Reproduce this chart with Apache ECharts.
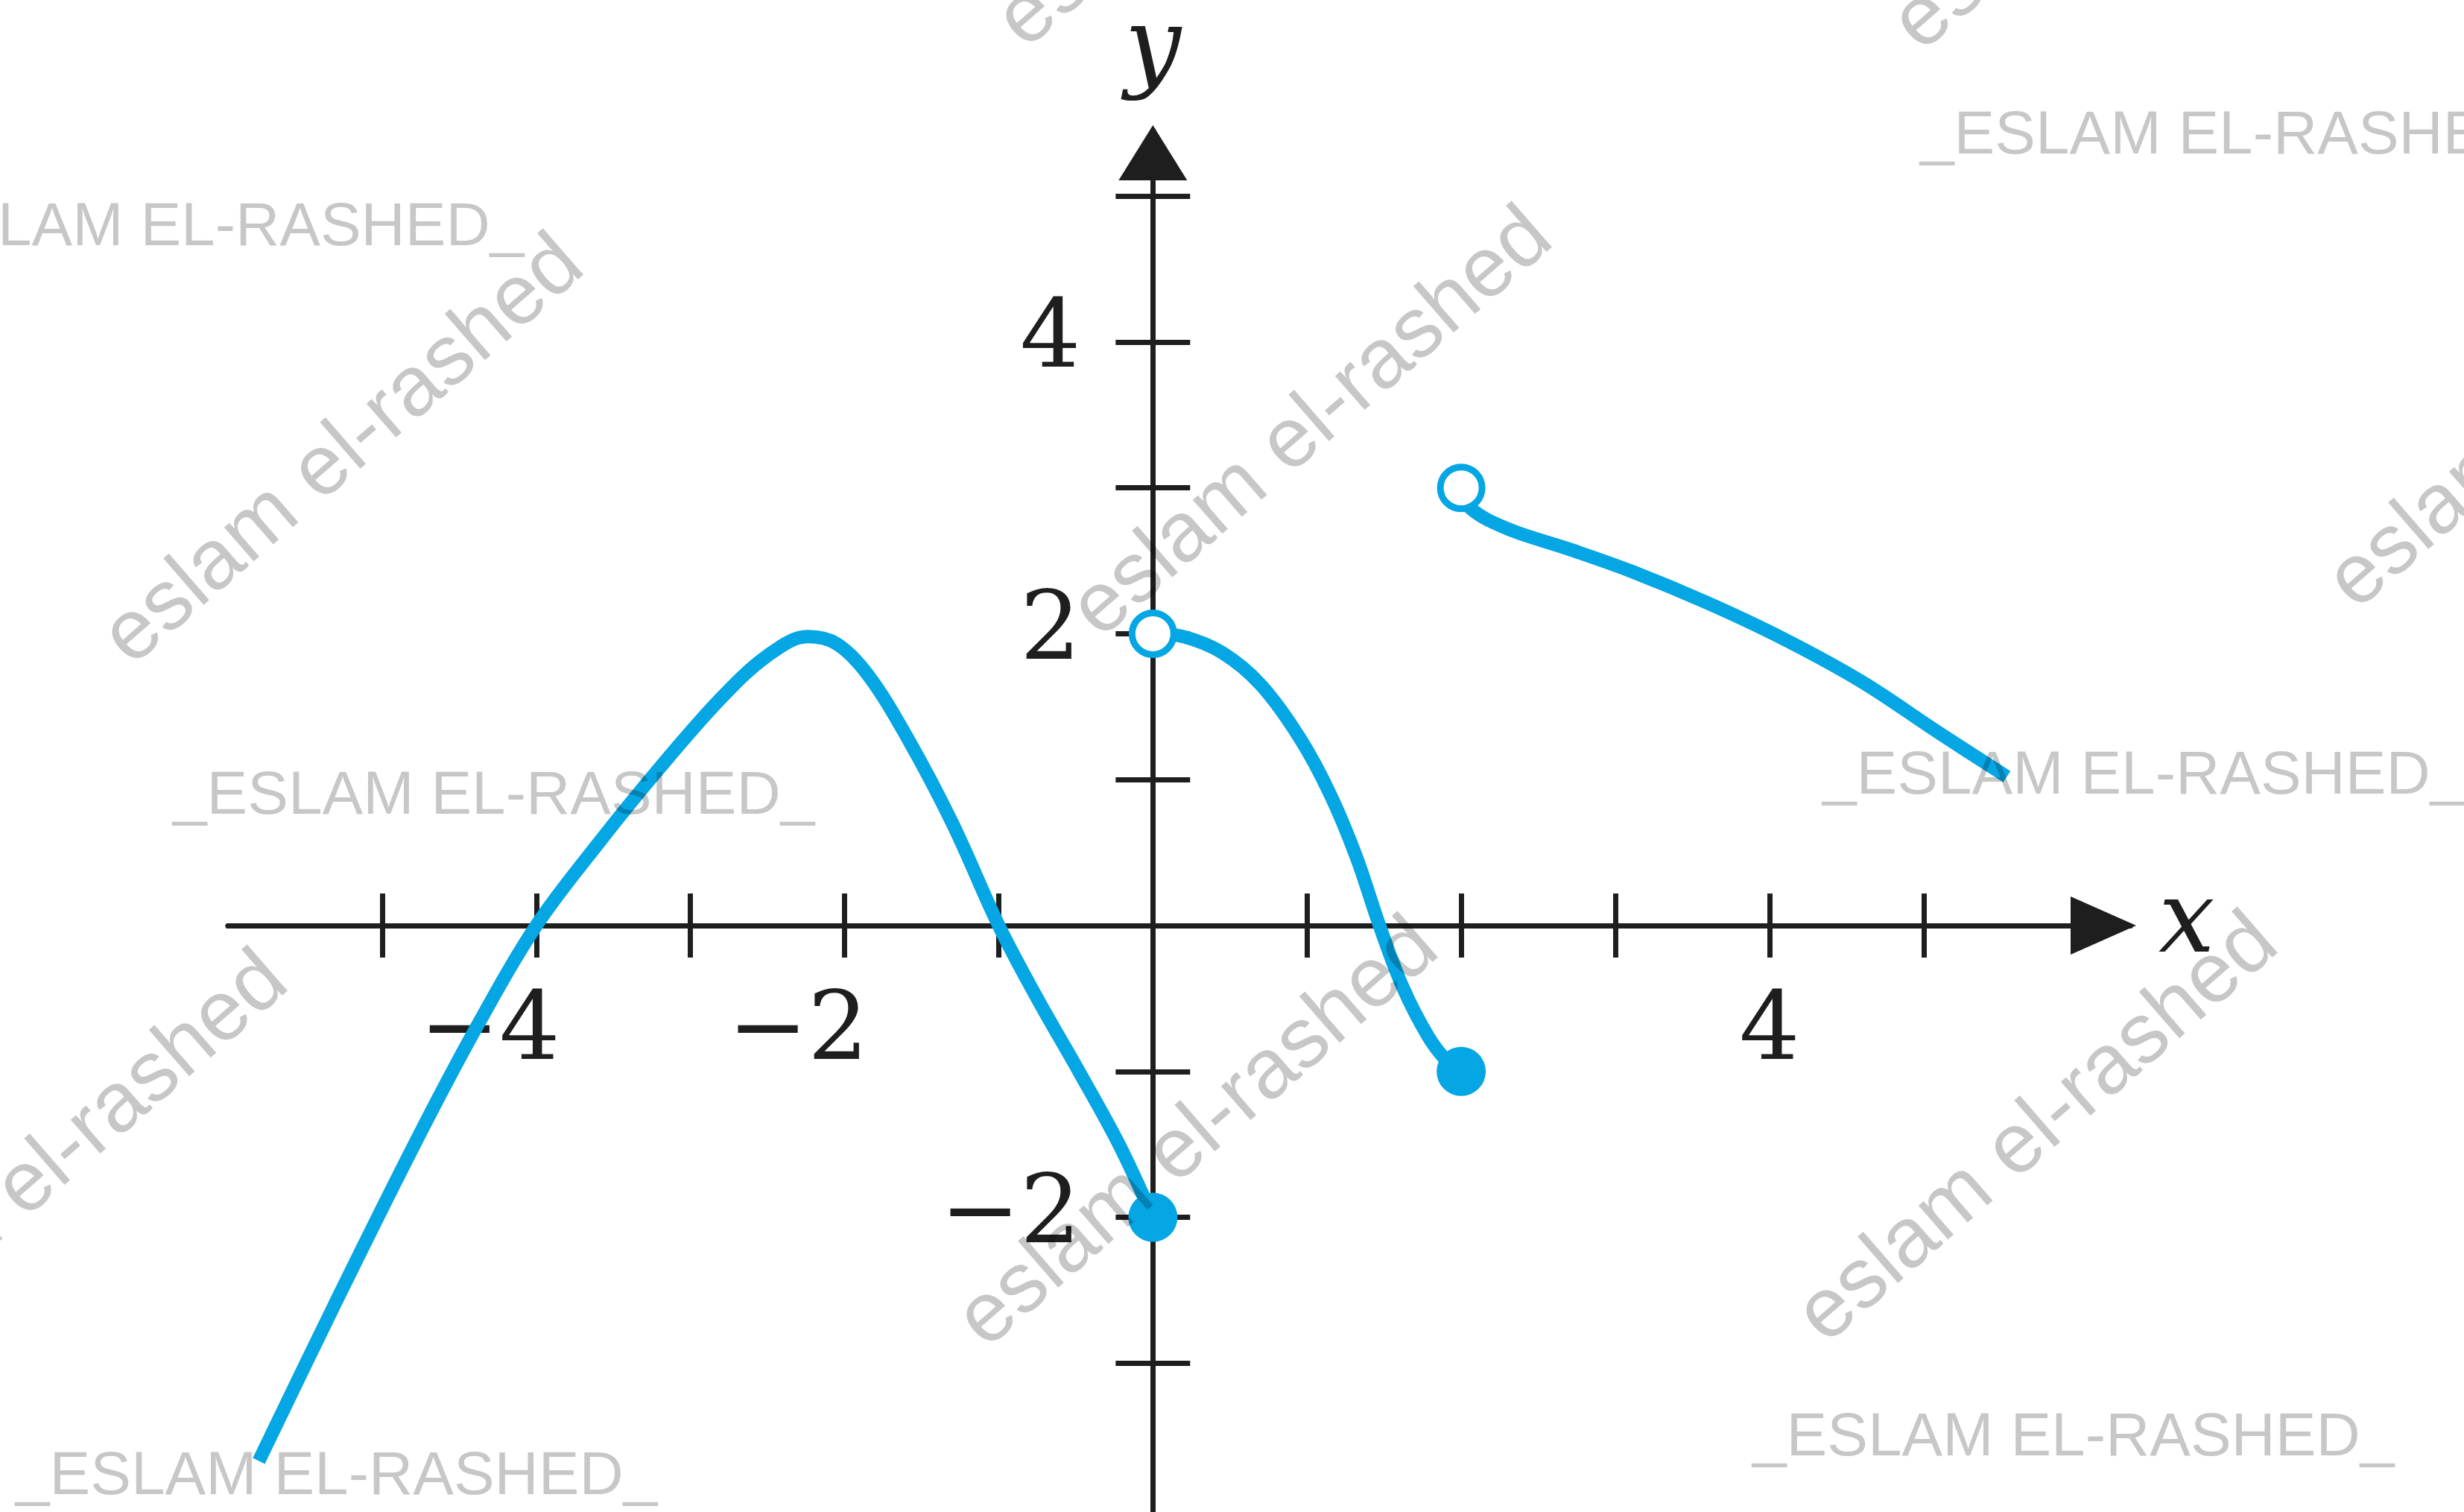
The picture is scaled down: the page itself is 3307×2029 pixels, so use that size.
<!DOCTYPE html>
<html lang="en">
<head>
    <meta charset="UTF-8">
    <title>piecewise graph</title>
    <script src="https://cdn.jsdelivr.net/npm/echarts@6/dist/echarts.min.js"></script>
    <style>
        html, body {
            margin: 0;
            padding: 0;
            background: #fff;
        }

        #main {
            width: 3307px;
            height: 2029px;
        }
    </style>
</head>
<body>
<div id="main"></div>
<script>
    // the three pieces of the curve, [x, y]
    var leftPiece = [
        [-5.80, -3.67], [-5.30, -2.58], [-4.80, -1.52], [-4.40, -0.72], [-4.00, 0.00],
        [-3.60, 0.56], [-3.20, 1.08], [-2.80, 1.56], [-2.50, 1.85], [-2.24, 1.98],
        [-2.05, 1.93], [-1.85, 1.72], [-1.60, 1.30], [-1.30, 0.70], [-1.00, 0.00],
        [-0.75, -0.50], [-0.48, -1.00], [-0.22, -1.50], [0.00, -2.00]
    ];
    var middlePiece = [
        [0.00, 2.00], [0.20, 1.98], [0.45, 1.87], [0.70, 1.65], [0.95, 1.29],
        [1.15, 0.90], [1.32, 0.47], [1.47, 0.00], [1.62, -0.42], [1.78, -0.75],
        [1.90, -0.92], [2.00, -1.00]
    ];
    var rightPiece = [
        [2.00, 3.00], [2.06, 2.86], [2.30, 2.72], [2.70, 2.58], [3.10, 2.43],
        [3.60, 2.21], [4.10, 1.96], [4.60, 1.67], [5.10, 1.32], [5.54, 1.02]
    ];
    var openPoints = [[0, 2], [2, 3]];
    var closedPoints = [[0, -2], [2, -1]];

    var xTicks = [-5, -4, -3, -2, -1, 1, 2, 3, 4, 5];
    var yTicks = [-3, -2, -1, 1, 2, 3, 4, 5];
    var xTickLabels = [-4, -2, 4];
    var yTickLabels = [-2, 2, 4];

    var xMin = -6, xMax = 6.34, yMin = -4.02, yMax = 5.45;

    var blue = '#05a6e4';
    var ink = '#1e1e1e';
    var numFont = 'DejaVu Serif';
    var numSize = 128;
    var W = 3307, H = 2029;
    var gl = 306, gr = 448, gt = 175, gb = 0;

    // where the zero lines fall, so the axes can be moved there
    var gw = W - gl - gr, gh = H - gt - gb;
    var zeroX = gl + (0 - xMin) / (xMax - xMin) * gw;
    var zeroY = gt + (yMax - 0) / (yMax - yMin) * gh;

    function minusText(v) {
        return v < 0 ? '\u2212' + (-v) : String(v);
    }

    var chartDom = document.getElementById('main');
    var myChart = echarts.init(chartDom);

    // watermark text laid over the picture
    var wmStyle = {fill: 'rgba(0,0,0,0.22)', fontFamily: 'Liberation Sans'};
    var flatMarks = [[2577, 183], [-158, 306], [232, 1069], [2446, 1042], [21, 1982], [2352, 1930]];
    var slantMarks = [[462, 606], [1762, 569], [1609, 1522], [2736, 1516], [65, 1567], [3448, 531], [1662, -222], [2864, -218]];
    var marks = [];
    flatMarks.forEach(function (p) {
        marks.push({
            type: 'text', x: p[0], y: p[1], z: 100, silent: true,
            style: Object.assign({text: '_ESLAM EL-RASHED_', fontSize: 82, align: 'left', verticalAlign: 'middle'}, wmStyle)
        });
    });
    slantMarks.forEach(function (p) {
        marks.push({
            type: 'text', x: p[0], y: p[1], z: 100, silent: true, rotation: 41 * Math.PI / 180,
            style: Object.assign({text: 'eslam el-rashed', fontSize: 114, align: 'center', verticalAlign: 'middle'}, wmStyle)
        });
    });

    var nameStyle = {fontFamily: 'DejaVu Serif', fontStyle: 'italic', fontSize: 134, color: ink};

    var option = {
        animation: false,
        backgroundColor: '#fff',
        grid: {left: gl, right: gr, top: gt, bottom: gb, containLabel: false, outerBoundsMode: 'none'},
        xAxis: [
            {
                type: 'value', min: xMin, max: xMax, position: 'bottom', offset: zeroY - (H - gb),
                splitLine: {show: false},
                axisLine: {
                    onZero: false, symbol: ['none', 'triangle'], symbolSize: [78, 88], symbolOffset: [0, -36],
                    lineStyle: {color: ink, width: 7}
                },
                axisTick: {show: true, length: 43, customValues: xTicks, lineStyle: {color: ink, width: 7}},
                axisLabel: {
                    customValues: xTickLabels, margin: 82, color: ink, fontFamily: numFont, fontSize: numSize,
                    formatter: function (v) {
                        return v < 0 ? '{neg|' + minusText(v) + '}' : '{pos|' + v + '}';
                    },
                    rich: {
                        neg: {fontFamily: numFont, fontSize: numSize, color: ink, padding: [0, 125, 0, 0]},
                        pos: {fontFamily: numFont, fontSize: numSize, color: ink}
                    }
                },
                name: 'x', nameLocation: 'end', nameGap: 38, nameTextStyle: nameStyle
            },
            {
                type: 'value', min: xMin, max: xMax, position: 'top', offset: gt - zeroY,
                splitLine: {show: false},
                axisLine: {onZero: false, lineStyle: {color: ink, width: 7}},
                axisTick: {show: true, length: 43, customValues: xTicks, lineStyle: {color: ink, width: 7}},
                axisLabel: {show: false}
            }
        ],
        yAxis: [
            {
                type: 'value', min: yMin, max: yMax, position: 'left', offset: gl - zeroX,
                splitLine: {show: false},
                axisLine: {
                    onZero: false, symbol: ['none', 'triangle'], symbolSize: [92, 74], symbolOffset: [0, -30],
                    lineStyle: {color: ink, width: 7}
                },
                axisTick: {show: true, length: 50, customValues: yTicks, lineStyle: {color: ink, width: 7}},
                axisLabel: {
                    customValues: yTickLabels, margin: 97, color: ink, fontFamily: numFont, fontSize: numSize,
                    formatter: minusText
                },
                name: 'y', nameLocation: 'end', nameGap: 38, nameTextStyle: nameStyle
            },
            {
                type: 'value', min: yMin, max: yMax, position: 'right', offset: zeroX - (W - gr),
                splitLine: {show: false},
                axisLine: {onZero: false, lineStyle: {color: ink, width: 7}},
                axisTick: {show: true, length: 50, customValues: yTicks, lineStyle: {color: ink, width: 7}},
                axisLabel: {show: false}
            }
        ],
        series: [
            {type: 'line', data: leftPiece, smooth: 0.35, showSymbol: false, z: 3, lineStyle: {color: blue, width: 18}},
            {type: 'line', data: middlePiece, smooth: 0.35, showSymbol: false, z: 3, lineStyle: {color: blue, width: 18}},
            {type: 'line', data: rightPiece, smooth: 0.35, showSymbol: false, z: 3, lineStyle: {color: blue, width: 18}},
            {
                type: 'scatter', data: openPoints, symbol: 'circle', symbolSize: 56, z: 4,
                itemStyle: {color: '#fff', borderColor: blue, borderWidth: 9, opacity: 1}
            },
            {
                type: 'scatter', data: closedPoints, symbol: 'circle', symbolSize: 66, z: 4,
                itemStyle: {color: blue, opacity: 1}
            }
        ],
        graphic: marks
    };

    option && myChart.setOption(option);
</script>
</body>
</html>
